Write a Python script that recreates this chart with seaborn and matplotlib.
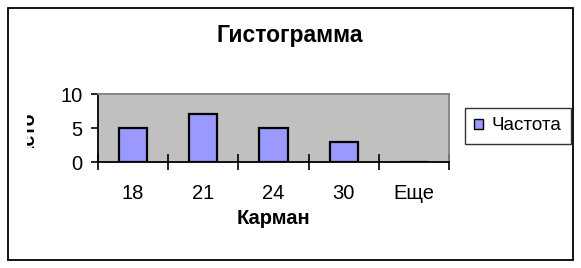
import matplotlib
matplotlib.use("Agg")
import matplotlib.pyplot as plt
from matplotlib.patches import Rectangle, Patch
from matplotlib.transforms import Bbox
import seaborn as sns
import pandas as pd

categories = ["18", "21", "24", "30", "Еще"]
values = [5, 7, 5, 3, 0]
series_name = "Частота"
title = "Гистограмма"
xlabel = "Карман"
ylabel = "Частота"
yticks = [0, 5, 10]

sns.set_style("white")
plt.rcParams["font.family"] = ["Liberation Sans", "DejaVu Sans"]
plt.rcParams["text.color"] = "black"
plt.rcParams["axes.labelcolor"] = "black"
plt.rcParams["xtick.color"] = "black"
plt.rcParams["ytick.color"] = "black"

W, H = 581, 268
fig = plt.figure(figsize=(W / 100, H / 100), dpi=100)
fig.patch.set_facecolor("white")

def fx(px):
    return px / W

def fy(py):
    return 1 - py / H

# outer frame
fig.add_artist(Rectangle((fx(8), fy(260)), fx(573) - fx(8), fy(8) - fy(260),
                         transform=fig.transFigure, fill=False, edgecolor="black", lw=1.3))

ax = fig.add_axes([fx(98), fy(162), fx(449) - fx(98), fy(94) - fy(162)])
df = pd.DataFrame({"cat": categories, "val": values})
sns.barplot(data=df, x="cat", y="val", ax=ax, width=0.4, color="#9999FF",
            saturation=1, edgecolor="black", linewidth=1.6)
ax.set_facecolor("#C0C0C0")
ax.set_xlim(-0.5, len(categories) - 0.5)
ax.set_ylim(0, 10)
ax.set_xlabel("")
ax.set_ylabel("")

for s in ["top", "right"]:
    ax.spines[s].set_visible(True)
    ax.spines[s].set_color("#808080")
    ax.spines[s].set_linewidth(1.3)
for s in ["left", "bottom"]:
    ax.spines[s].set_color("black")
    ax.spines[s].set_linewidth(1.3)

ax.set_xticks([i - 0.5 for i in range(len(categories) + 1)])
ax.set_xticklabels([])
ax.set_xticks(range(len(categories)), minor=True)
ax.set_xticklabels(categories, minor=True)
ax.tick_params(axis="x", which="major", direction="inout", length=11, width=1.2, color="black", bottom=True)
ax.tick_params(axis="x", which="minor", length=0, pad=16, labelsize=14.5, bottom=True)
ax.set_yticks(yticks)
ax.tick_params(axis="y", which="major", direction="out", length=5, width=1.2, color="black",
               pad=6, labelsize=14.5, left=True)

fig.text(fx(290), fy(36), title, ha="center", va="center", fontsize=16.5, fontweight="bold")
fig.text(fx(273.5), fy(218), xlabel, ha="center", va="center", fontsize=14.5, fontweight="bold")

yl = fig.text(fx(38), fy(131), ylabel, ha="right", va="center", rotation=90,
              fontsize=14, fontweight="bold", clip_on=True)
yl.set_clip_box(Bbox.from_extents(27, H - 148, 40, H - 112))

handle = Patch(facecolor="#9999FF", edgecolor="black", linewidth=1)
leg = fig.legend([handle], [series_name], loc="center left",
                 bbox_to_anchor=(fx(465), fy(126)), fontsize=13.5,
                 handlelength=0.48, handleheight=0.48, handletextpad=0.45,
                 borderpad=0.5, fancybox=False, frameon=True, borderaxespad=0)
leg.get_frame().set_edgecolor("black")
leg.get_frame().set_linewidth(1)

fig.savefig("out.png", dpi=100)
